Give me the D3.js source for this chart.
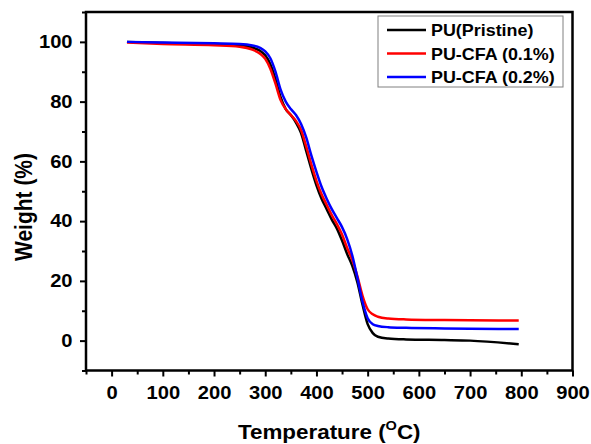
<!DOCTYPE html>
<html>
<head>
<meta charset="utf-8">
<script src="https://cdn.jsdelivr.net/npm/d3@7"></script>
<style>
  body { margin: 0; background: #fff; }
  text { font-family: Arial, "Liberation Sans", sans-serif; font-weight: bold; }
</style>
</head>
<body>
<div id="chart"></div>
<script>
//////////////////////////////////////////
/////////////// Data ////////////////////
//////////////////////////////////////////

const temps = [30, 100, 200, 250, 275, 290, 300, 310, 320, 330, 340, 350, 360, 370, 380, 390, 400, 410, 420, 430, 440, 450, 460, 470, 480, 490, 500, 510, 520, 540, 575, 650, 700, 795]

const pristine = [100, 99.6, 99.3, 98.9, 98.1, 97, 95.5, 92.5, 87.5, 81.5, 77.5, 75.5, 73, 69.5, 63.5, 57.5, 52, 47.5, 44, 40.5, 37.5, 33.5, 29, 25, 19.5, 12, 5.5, 2.5, 1.3, 0.7, 0.4, 0.2, 0, -1.2]
const cfa01 = [99.8, 99.3, 98.9, 98.4, 97.4, 96, 94.3, 91, 86, 80.5, 77.5, 75.5, 73.5, 70.5, 65, 59, 53.5, 49, 45.5, 42, 39, 35.5, 31, 27, 21.5, 15, 10.5, 8.8, 8, 7.4, 7.1, 6.9, 6.8, 6.7]
const cfa02 = [100, 99.8, 99.5, 99.3, 98.8, 98, 96.8, 94.5, 90, 84, 80, 77.5, 75.5, 72.5, 68, 62, 56.5, 51.5, 47.5, 44, 41, 38, 34, 28.5, 21, 13, 7.5, 5.5, 4.9, 4.5, 4.3, 4.1, 4.0, 3.9]

const seriesNames = ["PU(Pristine)", "PU-CFA (0.1%)", "PU-CFA (0.2%)"]
const seriesColors = ["#000000", "#ff0000", "#0000ff"]
const seriesValues = [pristine, cfa01, cfa02]

const xTicks = [0, 100, 200, 300, 400, 500, 600, 700, 800, 900]
const yTicks = [0, 20, 40, 60, 80, 100]

//////////////////////////////////////////
///////////// Constants /////////////////
//////////////////////////////////////////

const width = 591
const height = 444
const margin = {top: 12, right: 18.5, bottom: 73.5, left: 86}
const stretch = 1.12 // text in the picture is a bit wider than normal

const svg = d3.select("#chart")
  .append("svg")
    .attr("width", width)
    .attr("height", height)

const xScale = d3.scaleLinear()
  .domain([-50, 900])
  .range([margin.left, width - margin.right])

const yScale = d3.scaleLinear()
  .domain([-10, 110])
  .range([height - margin.bottom, margin.top])

//////////////////////////////////////////
/////////////// Axes ////////////////////
//////////////////////////////////////////

// minor ticks first, then major ticks with labels
svg.append("g")
  .attr("transform", `translate(0, ${height - margin.bottom})`)
  .call(d3.axisBottom(xScale).tickValues(d3.range(-50, 901, 100)).tickSize(4).tickFormat(""))
  .call(g => g.select(".domain").remove())
  .call(g => g.selectAll(".tick line").attr("stroke-width", 2))

svg.append("g")
  .attr("transform", `translate(0, ${height - margin.bottom})`)
  .call(d3.axisBottom(xScale).tickValues(xTicks).tickSize(6).tickPadding(9.5))
  .call(g => g.select(".domain").remove())
  .call(g => g.selectAll(".tick line").attr("stroke-width", 2))
  .call(g => g.selectAll(".tick text")
    .attr("font-size", "18px")
    .attr("fill", "#000")
    .attr("transform", `scale(${stretch},1)`))

svg.append("g")
  .attr("transform", `translate(${margin.left}, 0)`)
  .call(d3.axisLeft(yScale).tickValues(d3.range(-10, 111, 20)).tickSize(4).tickFormat(""))
  .call(g => g.select(".domain").remove())
  .call(g => g.selectAll(".tick line").attr("stroke-width", 2))

svg.append("g")
  .attr("transform", `translate(${margin.left}, 0)`)
  .call(d3.axisLeft(yScale).tickValues(yTicks).tickSize(6).tickPadding(6))
  .call(g => g.select(".domain").remove())
  .call(g => g.selectAll(".tick line").attr("stroke-width", 2))
  .call(g => g.selectAll(".tick text")
    .attr("font-size", "18px")
    .attr("fill", "#000")
    .attr("transform", `scale(${stretch},1)`))

// frame round the plot
svg.append("rect")
  .attr("x", margin.left)
  .attr("y", margin.top)
  .attr("width", width - margin.left - margin.right)
  .attr("height", height - margin.top - margin.bottom)
  .attr("fill", "none")
  .attr("stroke", "#000")
  .attr("stroke-width", 2.5)

// axis titles
svg.append("text")
  .attr("transform", `translate(${(margin.left + width - margin.right) / 2}, 439) scale(${stretch},1)`)
  .attr("text-anchor", "middle")
  .attr("font-size", "20px")
  .call(t => t.append("tspan").text("Temperature ("))
  .call(t => t.append("tspan").attr("font-size", "13px").attr("dy", -9).text("O"))
  .call(t => t.append("tspan").attr("dy", 9).text("C)"))

svg.append("text")
  .attr("transform", `translate(32, 207) scale(${stretch},1) rotate(-90)`)
  .attr("text-anchor", "middle")
  .attr("font-size", "21px")
  .text("Weight (%)")

//////////////////////////////////////////
/////////////// Lines ///////////////////
//////////////////////////////////////////

const line = d3.line()
  .x((d, i) => xScale(temps[i]))
  .y(d => yScale(d))
  .curve(d3.curveMonotoneX)

svg.append("g")
  .selectAll("path")
  .data(seriesValues)
  .join("path")
    .attr("fill", "none")
    .attr("stroke", (d, i) => seriesColors[i])
    .attr("stroke-width", 2.5)
    .attr("stroke-linejoin", "round")
    .attr("d", line)

//////////////////////////////////////////
/////////////// Legend //////////////////
//////////////////////////////////////////

const legend = svg.append("g").attr("transform", "translate(378, 16)")

legend.append("rect")
  .attr("width", 185)
  .attr("height", 71)
  .attr("fill", "#fff")
  .attr("stroke", "#808080")
  .attr("stroke-width", 1)

const legendRows = legend.selectAll(".legend-row")
  .data(seriesNames)
  .join("g")
    .attr("class", "legend-row")
    .attr("transform", (d, i) => `translate(0, ${14 + i * 23.5})`)

legendRows.append("line")
  .attr("x1", 9)
  .attr("x2", 48)
  .attr("stroke", (d, i) => seriesColors[i])
  .attr("stroke-width", 2.5)

legendRows.append("text")
  .attr("transform", `translate(53, 6) scale(${stretch},1)`)
  .attr("font-size", "16px")
  .text(d => d)
</script>
</body>
</html>
